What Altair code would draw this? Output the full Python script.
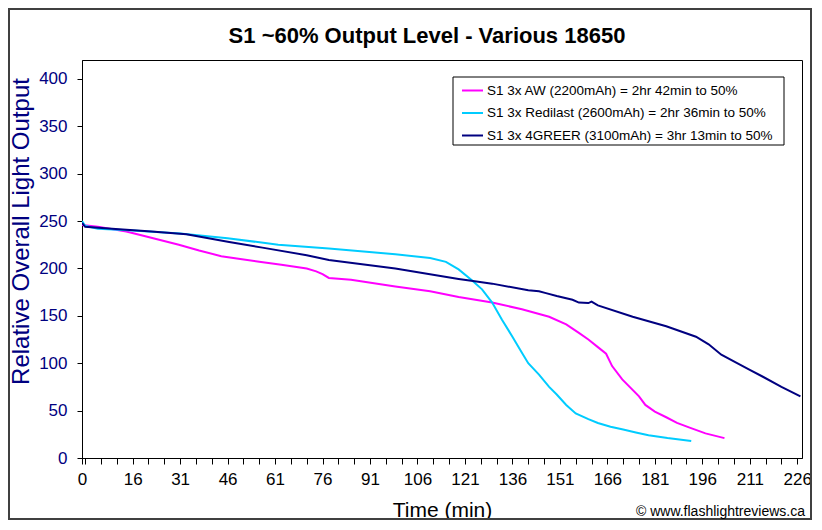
import altair as alt
import pandas as pd

# ---- data ----
aw_t = [0, 5, 14, 20, 30.6, 37, 44, 50, 56, 63, 71, 74, 76, 78, 85, 99, 110, 119, 129.6, 139,
        147.6, 153, 157, 160, 163, 165.6, 167.5, 170.7, 176, 178, 181, 184.6, 188, 192, 197, 203]
aw_y = [246, 244, 239, 234, 225, 219, 213, 210, 207, 204, 200, 197, 194, 190, 188, 181, 176, 170, 164, 157,
        149, 141, 132, 125, 117, 110, 97, 83, 65, 56, 49, 43, 37, 32, 26, 21]

red_t = [0, 1, 5, 16, 31, 46, 62, 78, 99, 110, 115, 119, 123, 126.4, 129.6, 132.7, 136, 139, 141, 144.4,
         147.6, 150, 153, 156, 160, 163, 167, 171, 175, 179, 185, 192.5]
red_y = [250, 245, 242, 240, 237, 232, 225, 221, 215, 211, 207, 199, 188, 178, 164, 146, 128, 111, 100, 88,
         75, 67, 56, 47, 41, 37, 33, 30, 27, 24, 21, 18]

gr_t = [0, 1, 9.5, 22, 33, 46.5, 57, 71, 78, 99, 119, 123, 129.6, 141, 144.4, 146.6, 150, 155, 157, 160,
        161, 163, 174, 184.6, 194, 198, 202, 207, 211, 215, 221, 227]
gr_y = [248, 244, 242, 239, 236, 228, 222, 214, 209, 200, 189, 187, 184, 177, 176, 174, 171, 167, 164, 163.5,
        165, 161, 149, 139, 128, 120, 109, 100, 93, 86, 75, 65]

series_names = ["S1 3x AW (2200mAh) = 2hr 42min to 50%",
                "S1 3x Redilast (2600mAh) = 2hr 36min to 50%",
                "S1 3x 4GREER (3100mAh) = 3hr 13min to 50%"]
series_colors = ["#FF00FF", "#00CCFF", "#000080"]

x_label_values = [0, 16, 31, 46, 61, 76, 91, 106, 121, 136, 151, 166, 181, 196, 211, 226]
x_tick_values = [0, 1, 6, 11, 16, 21, 26, 31, 36, 41, 46, 51, 56, 61, 66, 71, 76, 81, 86, 91, 96, 101,
                 106, 111, 116, 121, 126, 131, 136, 141, 146, 151, 156, 161, 166, 171, 176, 181, 186,
                 191, 196, 201, 206, 211, 216, 221, 226]
y_tick_values = [0, 50, 100, 150, 200, 250, 300, 350, 400]

title_text = "S1 ~60% Output Level - Various 18650"
credit_text = "\u00a9 www.flashlightreviews.ca"

rows = []
for name, ts, ys in zip(series_names, [aw_t, red_t, gr_t], [aw_y, red_y, gr_y]):
    for t, y in zip(ts, ys):
        rows.append({"series": name, "t": t, "y": y})
df = pd.DataFrame(rows)

FONT = "Liberation Sans"
W, H = 720, 398

label_list = ",".join(str(v) for v in x_label_values)

lines = alt.Chart(df).mark_line(strokeWidth=2, clip=True).encode(
    x=alt.X("t:Q",
            scale=alt.Scale(domain=[0, 227.5], nice=False, zero=False),
            axis=alt.Axis(values=x_tick_values, format="d",
                          labelExpr=f"indexof([{label_list}], datum.value) >= 0 ? datum.label : ''",
                          labelOverlap=False, labelFlush=False,
                          tickSize=6, tickColor="black", domainColor="black",
                          labelFont=FONT, labelFontSize=17, labelColor="black", labelPadding=7,
                          title="Time (min)", titleFont=FONT, titleFontSize=21,
                          titleFontWeight="normal", titleColor="black",
                          titleBaseline="alphabetic", titleY=58, grid=False)),
    y=alt.Y("y:Q",
            scale=alt.Scale(domain=[0, 420], nice=False),
            axis=alt.Axis(values=y_tick_values, format="d",
                          tickSize=5, tickColor="black", domainColor="black",
                          labelFont=FONT, labelFontSize=17, labelColor="#000080", labelPadding=10,
                          title="Relative Overall Light Output", titleFont=FONT, titleFontSize=24,
                          titleFontWeight="normal", titleColor="#000080",
                          titleAngle=270, titleAlign="center", titleBaseline="alphabetic",
                          titleX=-54, titleY=171, grid=False)),
    color=alt.Color("series:N",
                    scale=alt.Scale(domain=series_names, range=series_colors),
                    legend=alt.Legend(title=None, orient="none", legendX=379, legendY=19,
                                      direction="vertical", padding=0,
                                      symbolType="stroke", symbolSize=441, symbolStrokeWidth=2,
                                      labelFont=FONT, labelFontSize=13.5, labelColor="black",
                                      labelOffset=3, labelLimit=0, rowPadding=4.5)),
)

frame_df = pd.DataFrame({"k": [0]})
outer = alt.Chart(frame_df).mark_rect(fill=None, stroke="#404040", strokeWidth=2).encode(
    x=alt.value(-73), x2=alt.value(729), y=alt.value(-51), y2=alt.value(459)
)

legend_box = alt.Chart(frame_df).mark_rect(fill="white", stroke="black", strokeWidth=1).encode(
    x=alt.value(371), x2=alt.value(702), y=alt.value(17), y2=alt.value(85)
)

title_mark = alt.Chart(frame_df).mark_text(align="center", baseline="alphabetic", font=FONT,
                                            fontSize=22, fontWeight="bold", color="black").encode(
    x=alt.value(345), y=alt.value(-17), text=alt.value(title_text)
)

credit = alt.Chart(frame_df).mark_text(align="right", baseline="alphabetic", font=FONT,
                                        fontSize=14, color="black").encode(
    x=alt.value(723), y=alt.value(456), text=alt.value(credit_text)
)

chart = alt.layer(outer, lines, legend_box, title_mark, credit).properties(
    width=W, height=H,
    autosize=alt.AutoSizeParams(type="none"),
    padding={"left": 74, "top": 52, "right": 10, "bottom": 62},
    background="white",
).configure_view(stroke="black", strokeWidth=1, fill="white")

chart.save("out.html", embed_options={"renderer": "svg", "actions": False})
